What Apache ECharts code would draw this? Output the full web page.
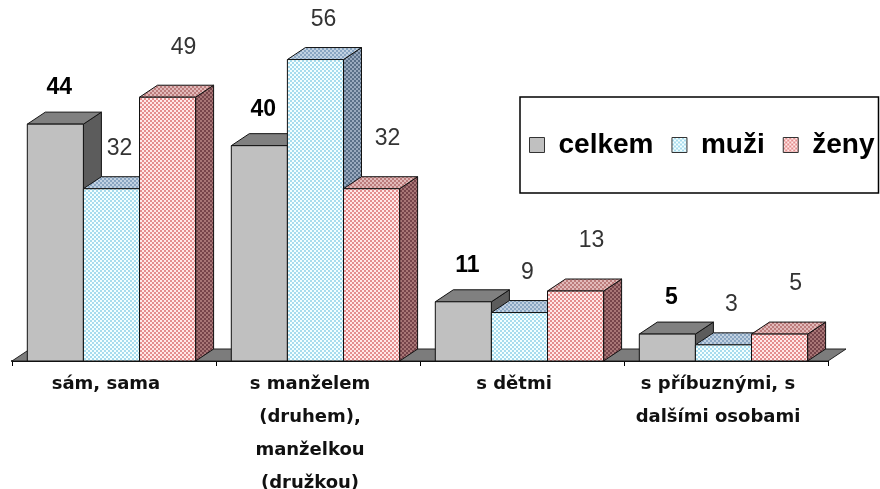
<!DOCTYPE html>
<html>
<head>
<meta charset="utf-8">
<script src="https://cdn.jsdelivr.net/npm/echarts@6/dist/echarts.min.js"></script>
<style>
 html, body { margin: 0; padding: 0; background: #fff; }
 #chart { width: 880px; height: 489px; }
</style>
</head>
<body>
<div id="chart"></div>
<script>
// data
var categories = ['sám, sama', 's manželem\n(druhem),\nmanželkou\n(družkou)', 's dětmi', 's příbuznými, s\ndalšími osobami'];
var celkem = [44, 40, 11, 5];
var muzi = [32, 56, 9, 3];
var zeny = [49, 32, 13, 5];

// 3d depth of bars and floor
var DX = 18, DY = -12;

function checker(a, b) {
  var c = document.createElement('canvas');
  c.width = 4; c.height = 4;
  var ctx = c.getContext('2d');
  ctx.fillStyle = a; ctx.fillRect(0, 0, 4, 4);
  ctx.fillStyle = b; ctx.fillRect(0, 0, 2, 2); ctx.fillRect(2, 2, 2, 2);
  return { image: c, repeat: 'repeat' };
}

var looks = [
  { front: '#c0c0c0', top: '#808080', side: '#5c5c5c',
    label: { fontSize: 23, fontWeight: 'bold', fill: '#000', dx: 4, dy: -36 } },
  { front: checker('#a8dcee', '#f4ffff'), top: checker('#8aa6c2', '#c2d2e2'), side: checker('#5a7088', '#9aaabe'),
    label: { fontSize: 23, fontWeight: 'normal', fill: '#333', dx: 8, dy: -40 } },
  { front: checker('#e48e8e', '#ffe8e8'), top: checker('#bc7c7c', '#e2baba'), side: checker('#76444a', '#a87676'),
    label: { fontSize: 23, fontWeight: 'normal', fill: '#333', dx: 16, dy: -50 } }
];

function barRender(si) {
  var lk = looks[si];
  return function (params, api) {
    var cat = api.value(0), val = api.value(1);
    var base = api.coord([cat, 0]);
    var top = api.coord([cat, val]);
    var catW = api.size([1, 0])[0];
    var barW = catW * 0.275;
    var x0 = base[0] - catW / 2 + catW * 0.075 + si * barW;
    var x1 = x0 + barW;
    var yb = base[1], yt = top[1];
    var edge = { stroke: '#111', lineWidth: 1 };
    return {
      type: 'group',
      children: [
        { type: 'polygon', shape: { points: [[x1, yt], [x1 + DX, yt + DY], [x1 + DX, yb + DY], [x1, yb]] },
          style: Object.assign({ fill: lk.side }, edge) },
        { type: 'polygon', shape: { points: [[x0, yt], [x1, yt], [x1 + DX, yt + DY], [x0 + DX, yt + DY]] },
          style: Object.assign({ fill: lk.top }, edge) },
        { type: 'rect', shape: { x: x0, y: yt, width: barW, height: yb - yt },
          style: Object.assign({ fill: lk.front }, edge) },
        { type: 'text',
          style: { text: String(val), x: (x0 + x1) / 2 + lk.label.dx, y: yt + lk.label.dy,
            align: 'center', verticalAlign: 'middle',
            fontSize: lk.label.fontSize, fontWeight: lk.label.fontWeight,
            fontFamily: 'Liberation Sans', fill: lk.label.fill } }
      ]
    };
  };
}

function toData(arr) {
  return arr.map(function (v, i) { return [i, v]; });
}

var myChart = echarts.init(document.getElementById('chart'));
var option = {
  animation: false,
  grid: { left: 12, right: 52, top: 38, bottom: 128, outerBoundsMode: 'none', containLabel: false },
  legend: {
    left: 520, top: 97,
    padding: [34, 4, 34, 9],
    borderColor: '#000', borderWidth: 1.5,
    icon: 'rect', itemWidth: 15, itemHeight: 15, itemGap: 18,
    textStyle: { fontSize: 28, fontWeight: 'bold', fontFamily: 'Liberation Sans', color: '#000', padding: [0, 0, 0, 9] },
    data: [
      { name: 'celkem', itemStyle: { color: looks[0].front, borderColor: '#333', borderWidth: 1 } },
      { name: 'muži', itemStyle: { color: looks[1].front, borderColor: '#333', borderWidth: 1 } },
      { name: 'ženy', itemStyle: { color: looks[2].front, borderColor: '#333', borderWidth: 1 } }
    ]
  },
  xAxis: {
    type: 'category',
    data: categories,
    axisLine: { lineStyle: { color: '#000', width: 2 } },
    axisTick: { show: true, length: 5, lineStyle: { color: '#000' } },
    axisLabel: {
      interval: 0, margin: 7,
      fontFamily: 'DejaVu Sans', fontWeight: 'bold', fontSize: 18, color: '#111',
      lineHeight: 33, padding: [0, 16, 0, 0]
    }
  },
  yAxis: { type: 'value', min: 0, max: 60, show: false },
  series: [
    {
      // floor under the bars
      name: 'floor', type: 'custom', silent: true, data: [[0, 0]],
      renderItem: function (params, api) {
        var cs = params.coordSys;
        var yb = cs.y + cs.height;
        return { type: 'polygon',
          shape: { points: [[cs.x, yb], [cs.x + cs.width, yb], [cs.x + cs.width + DX, yb + DY], [cs.x + DX, yb + DY]] },
          style: { fill: '#7c7c7c', stroke: '#222', lineWidth: 1 } };
      }
    },
    { name: 'celkem', type: 'custom', data: toData(celkem), encode: { x: 0, y: 1 }, renderItem: barRender(0) },
    { name: 'muži', type: 'custom', data: toData(muzi), encode: { x: 0, y: 1 }, renderItem: barRender(1) },
    { name: 'ženy', type: 'custom', data: toData(zeny), encode: { x: 0, y: 1 }, renderItem: barRender(2) }
  ]
};
myChart.setOption(option);
</script>
</body>
</html>
